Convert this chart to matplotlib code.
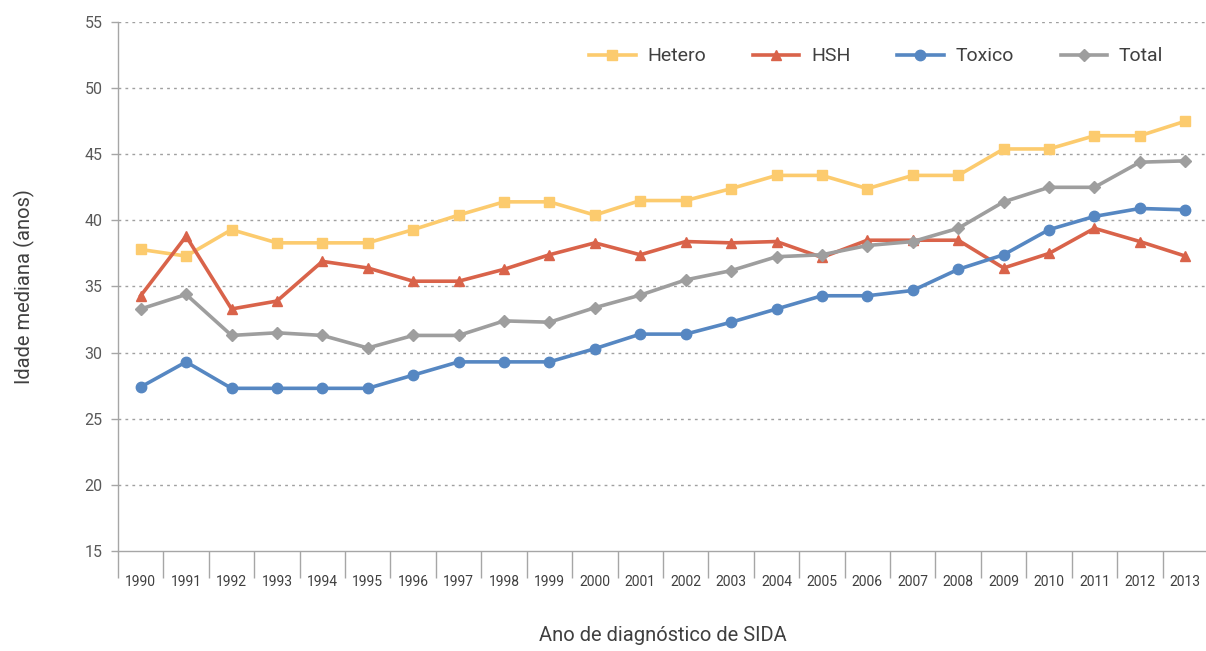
import matplotlib
matplotlib.use("Agg")
import matplotlib.pyplot as plt
import numpy as np

years = [str(y) for y in range(1990, 2014)]

hetero = [37.8, 37.3, 39.3, 38.3, 38.3, 38.3, 39.3, 40.4, 41.4, 41.4, 40.4, 41.5,
          41.5, 42.4, 43.4, 43.4, 42.4, 43.4, 43.4, 45.4, 45.4, 46.4, 46.4, 47.5]
hsh = [34.3, 38.8, 33.3, 33.9, 36.9, 36.4, 35.4, 35.4, 36.3, 37.4, 38.3, 37.4,
       38.4, 38.3, 38.4, 37.2, 38.5, 38.5, 38.5, 36.4, 37.5, 39.4, 38.4, 37.3]
toxico = [27.4, 29.3, 27.3, 27.3, 27.3, 27.3, 28.3, 29.3, 29.3, 29.3, 30.3, 31.4,
          31.4, 32.3, 33.3, 34.3, 34.3, 34.7, 36.3, 37.4, 39.3, 40.3, 40.9, 40.8]
total = [33.3, 34.4, 31.3, 31.5, 31.3, 30.35, 31.3, 31.3, 32.4, 32.3, 33.4, 34.35,
         35.5, 36.2, 37.25, 37.4, 38.1, 38.4, 39.4, 41.4, 42.5, 42.5, 44.4, 44.5]

y_ticks = list(range(15, 56, 5))

plt.rcParams["font.family"] = ["Roboto", "DejaVu Sans"]

text_color = "#404040"
axis_color = "#A6A6A6"

figure = plt.figure(figsize=(12.06, 6.51), dpi=100)
axis = figure.add_axes([118 / 1206, 1 - 551 / 651, 1090 / 1206, 529 / 651])

x = np.arange(len(years))

series = [
    ("Hetero", hetero, "#FCCB6E", "s", 7),
    ("HSH", hsh, "#D9634A", "^", 7.5),
    ("Toxico", toxico, "#5687C2", "o", 7.5),
    ("Total", total, "#9E9E9E", "D", 6),
]

for label, values, color, marker, size in series:
    axis.plot(
        x,
        values,
        color=color,
        linewidth=2.6,
        marker=marker,
        markersize=size,
        markeredgecolor=color,
        label=label,
        solid_joinstyle="round",
    )

axis.set_xlim(-0.5, len(years) - 0.5)
axis.set_ylim(15, 55)
axis.set_yticks(y_ticks)
axis.set_xticks(x)
axis.set_xticklabels(years)
axis.set_xticks(np.arange(-0.5, len(years), 1.0), minor=True)

axis.tick_params(axis="x", which="major", length=0, pad=17, labelsize=10,
                 labelcolor=text_color)
axis.tick_params(axis="x", which="minor", length=19.5, width=1, color=axis_color,
                 direction="out")
axis.tick_params(axis="y", which="major", length=5, width=1, color=axis_color,
                 labelsize=11.5, labelcolor="#595959", pad=6)

for side in ["top", "right"]:
    axis.spines[side].set_visible(False)
for side in ["left", "bottom"]:
    axis.spines[side].set_color(axis_color)
    axis.spines[side].set_linewidth(1)

for value in y_ticks[1:]:
    axis.axhline(value, color="#A0A0A0", linewidth=1, linestyle=(0, (2, 3)),
                 zorder=0)

axis.set_xlabel("Ano de diagnóstico de SIDA", fontsize=14.5, color=text_color,
                labelpad=27)
axis.set_ylabel("Idade mediana (anos)", fontsize=14.5, color=text_color,
                labelpad=36)

axis.legend(
    loc="upper right",
    bbox_to_anchor=(0.975, 0.985),
    ncol=4,
    frameon=False,
    fontsize=14,
    handlelength=2.4,
    handletextpad=0.6,
    columnspacing=2.4,
    labelcolor=text_color,
)

figure.savefig("out.png", dpi=100)
plt.close(figure)
